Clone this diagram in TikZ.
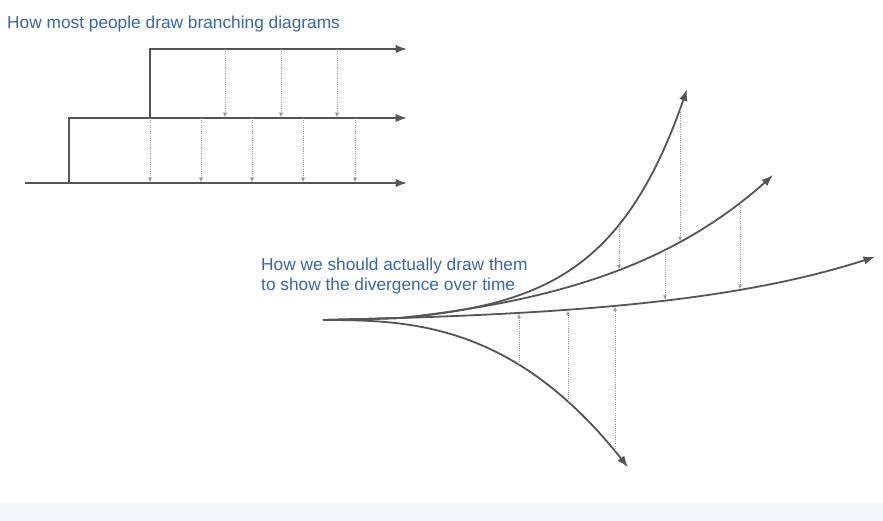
\documentclass[tikz,border=0pt]{standalone}
\usepackage{fontspec}
\setmainfont{Liberation Sans}
\usetikzlibrary{arrows.meta}

\definecolor{linegray}{HTML}{555555}
\definecolor{driftgray}{HTML}{9A9A9A}
\definecolor{captionblue}{HTML}{3A66B0}
\definecolor{bandgray}{HTML}{F6F7FB}

\begin{document}
\begin{tikzpicture}[x=1pt,y=-1pt,
    declare function={
        fmain(\x)=320-4.26*(exp(0.005*(\x-323))-1);
        ftop(\x)=fmain(\x)-4.42*(exp(0.0135*(max(\x,400)-400))-1);
        fmid(\x)=fmain(\x)-13*(exp(0.006*(max(\x,400)-400))-1);
        flow(\x)=320+131*((\x-323)/292)^2.7;}]
    \tikzstyle{branch}=[draw=linegray,line width=1.8pt,
    -{Latex[length=11.5pt,width=8.5pt]}]
    \tikzstyle{curvebranch}=[branch,line join=round]
    \tikzstyle{drift}=[draw=driftgray,line width=0.6pt,
    dash pattern=on 1pt off 1.2pt,-{Latex[length=4.5pt,width=4pt]},
    shorten >=0.8pt]
    \tikzstyle{caption}=[text=captionblue,inner sep=0pt,align=left,
    font=\fontsize{17.3}{20}\selectfont]

    %% Page and bottom band
    \fill[white] (0,0) rectangle (883,521);
    \fill[bandgray] (0,503) rectangle (883,521);
    \useasboundingbox (0,0) rectangle (883,521);

    %% Step diagram
    \node [caption,anchor=base west] at (7,29) (stepcap)
    {How most people draw branching diagrams};

    \coordinate (topstart) at (150,118);
    \coordinate (topend) at (407,49);
    \coordinate (midstart) at (69,183);
    \coordinate (midend) at (407,118);
    \coordinate (lowstart) at (25,183);
    \coordinate (lowend) at (407,183);

    \draw [branch] (topstart) |- (topend);
    \draw [branch] (midstart) |- (midend);
    \draw [branch] (lowstart) -- (lowend);

    \foreach \x in {225,281,337}
        \draw [drift] (\x,0 |- topend) -- (\x,0 |- midend);
    \foreach \x in {150,201,252,303,355}
        \draw [drift] (\x,0 |- midend) -- (\x,0 |- lowend);

    %% Fan diagram
    \node [caption,anchor=base west] at (261,290.5) (fancap)
    {How we should actually draw them\\to show the divergence over time};

    \coordinate (root) at (323,320);

    \coordinate (main1) at (519,{fmain(519)});
    \coordinate (main2) at (568,{fmain(568)});
    \coordinate (main3) at (615,{fmain(615)});
    \coordinate (main4) at (665,{fmain(665)});
    \coordinate (main5) at (740,{fmain(740)});

    \coordinate (top1) at (619,{ftop(619)});
    \coordinate (top2) at (680,{ftop(680)});

    \coordinate (mid1) at (619,{fmid(619)});
    \coordinate (mid2) at (665,{fmid(665)});
    \coordinate (mid3) at (680,{fmid(680)});
    \coordinate (mid4) at (740,{fmid(740)});

    \coordinate (low1) at (519,{flow(519)});
    \coordinate (low2) at (568,{flow(568)});
    \coordinate (low3) at (615,{flow(615)});

    \draw [curvebranch] plot [domain=323:875,samples=120]
        (\x,{fmain(\x)});
    \draw [curvebranch] plot [domain=323:687,samples=120]
        (\x,{ftop(\x)});
    \draw [curvebranch] plot [domain=323:773,samples=120]
        (\x,{fmid(\x)});
    \draw [curvebranch] (root) -- plot [domain=330:628,samples=120]
        (\x,{flow(\x)});

    %% Dotted links between branches
    \draw [drift] (top1) -- (mid1);
    \draw [drift] (top2) -- (mid3);
    \draw [drift] (mid2) -- (main4);
    \draw [drift] (mid4) -- (main5);
    \draw [drift] (low1) -- (main1);
    \draw [drift] (low2) -- (main2);
    \draw [drift] (low3) -- (main3);

\end{tikzpicture}
\end{document}
